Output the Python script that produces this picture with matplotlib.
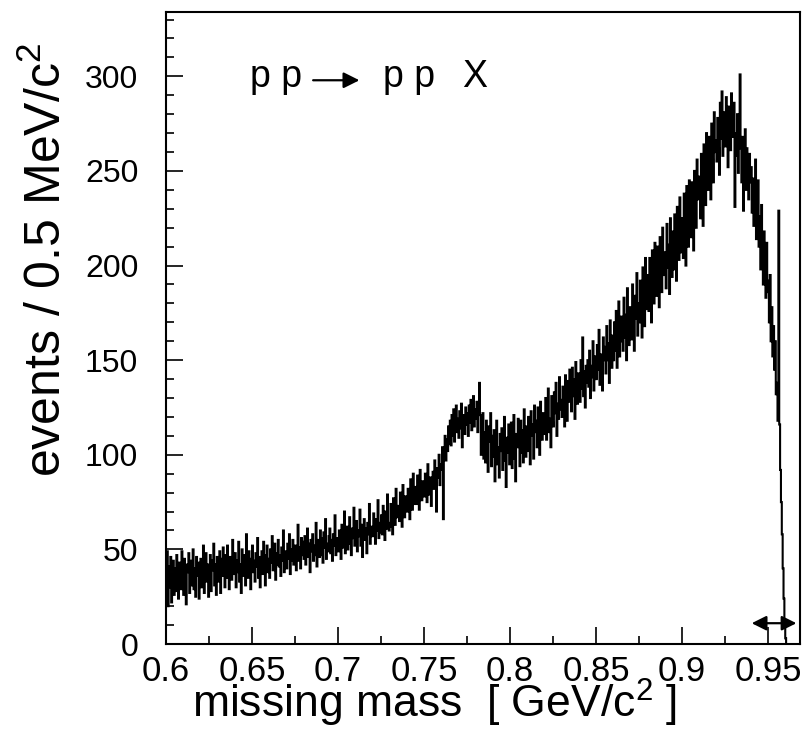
import numpy as np
import matplotlib
matplotlib.use("Agg")
import matplotlib.pyplot as plt
from matplotlib.ticker import MultipleLocator, FixedLocator

plt.rcParams['font.family'] = ['Liberation Sans', 'DejaVu Sans']
plt.rcParams['mathtext.default'] = 'regular'

# histogram: 0.5 MeV bins starting at 0.600 GeV
bin_start = 0.600
bin_width = 0.0005

counts_low = [  # 0.600 - 0.700
    24, 49, 20, 41, 30, 46, 22, 38, 44, 26,
    40, 28, 47, 33, 24, 43, 36, 29, 49, 31,
    26, 45, 34, 21, 42, 38, 48, 27, 35, 44,
    31, 50, 29, 40, 25, 46, 36, 43, 24, 39,
    45, 30, 41, 52, 27, 37, 48, 33, 42, 25,
    36, 47, 28, 44, 39, 53, 31, 42, 26, 46,
    41, 33, 49, 27, 45, 36, 51, 38, 30, 47,
    35, 52, 39, 29, 46, 41, 34, 55, 37, 43,
    48, 30, 44, 38, 54, 33, 42, 27, 50, 39,
    36, 47, 31, 58, 40, 35, 49, 43, 29, 45,
    52, 38, 44, 33, 48, 41, 56, 35, 46, 30,
    40, 49, 37, 54, 44, 31, 47, 52, 38, 45,
    35, 50, 43, 57, 39, 46, 53, 34, 48, 42,
    55, 41, 47, 36, 51, 44, 60, 38, 49, 43,
    40, 53, 45, 58, 37, 50, 44, 55, 42, 48,
    52, 39, 49, 63, 44, 51, 40, 56, 47, 54,
    45, 57, 42, 50, 61, 46, 53, 38, 55, 49,
    58, 44, 52, 47, 64, 41, 55, 50, 46, 60,
    47, 56, 43, 59, 51, 66, 45, 53, 49, 57,
    61, 48, 55, 44, 58, 52, 68, 47, 56, 50,
]
counts_rise = [  # 0.700 - 0.760
    49, 60, 54, 45, 63, 51, 57, 70, 48, 55,
    62, 50, 58, 67, 53, 47, 61, 56, 72, 52,
    54, 65, 49, 60, 57, 71, 52, 63, 46, 59,
    66, 55, 61, 48, 64, 58, 74, 53, 62, 57,
    57, 69, 62, 53, 66, 60, 76, 56, 64, 59,
    68, 58, 73, 63, 55, 70, 61, 79, 64, 60,
    62, 74, 66, 58, 77, 68, 63, 82, 67, 71,
    73, 65, 80, 70, 62, 84, 72, 67, 78, 74,
    70, 82, 75, 66, 87, 76, 71, 90, 74, 79,
    83, 74, 89, 79, 71, 92, 81, 76, 86, 80,
    78, 90, 84, 75, 95, 83, 79, 88, 73, 86,
    91, 82, 97, 85, 70, 93, 88, 100, 84, 95,
]
counts_omega = [  # 0.760 - 0.830
    92, 104, 66, 100, 110, 97, 108, 102, 115, 106,
    118, 105, 121, 110, 124, 107, 116, 126, 112, 119,
    109, 123, 114, 127, 104, 118, 121, 111, 125, 116,
    122, 110, 126, 117, 129, 113, 120, 131, 115, 124,
    119, 128, 112, 125, 138, 121, 100, 114, 122, 98,
    112, 96, 118, 104, 91, 115, 107, 122, 94, 110,
    99, 113, 86, 108, 118, 95, 104, 88, 111, 102,
    114, 92, 107, 120, 97, 83, 109, 101, 116, 95,
    100, 117, 93, 108, 121, 98, 86, 111, 104, 119,
    109, 94, 118, 101, 113, 96, 124, 105, 99, 115,
    102, 120, 107, 95, 123, 110, 116, 98, 126, 112,
    118, 104, 125, 113, 100, 128, 116, 108, 122, 111,
    121, 130, 108, 124, 135, 112, 119, 104, 131, 117,
    115, 133, 122, 138, 110, 127, 119, 141, 124, 129,
]
counts_peak = [  # 0.830 - 0.961
    120, 136, 126, 115, 142, 130, 118, 139, 128, 145,
    134, 123, 146, 131, 140, 119, 149, 133, 127, 143,
    139, 128, 150, 135, 162, 131, 144, 125, 147, 138,
    150, 136, 155, 130, 147, 141, 160, 134, 152, 144,
    140, 158, 145, 166, 137, 153, 148, 134, 162, 150,
    157, 143, 168, 150, 159, 138, 171, 154, 146, 163,
    150, 170, 155, 176, 146, 164, 181, 152, 160, 173,
    168, 155, 183, 162, 174, 150, 188, 166, 158, 178,
    177, 161, 190, 168, 155, 184, 172, 196, 163, 180,
    170, 192, 175, 162, 199, 181, 168, 204, 177, 186,
    195, 176, 204, 185, 170, 208, 189, 180, 212, 190,
    184, 210, 192, 178, 215, 197, 186, 220, 195, 203,
    207, 188, 222, 199, 211, 185, 225, 204, 194, 218,
    198, 227, 209, 192, 231, 212, 203, 236, 207, 222,
    225, 204, 238, 216, 200, 242, 221, 210, 245, 226,
    215, 244, 228, 208, 250, 231, 220, 256, 235, 241,
    247, 225, 259, 238, 221, 264, 243, 232, 270, 249,
    240, 268, 252, 235, 275, 256, 244, 281, 260, 266,
    255, 278, 262, 248, 286, 267, 292, 258, 281, 270,
    263, 289, 271, 252, 284, 276, 261, 291, 268, 279,
    286, 231, 270, 258, 280, 249, 274, 301, 262, 244,
    268, 229, 257, 272, 240, 262, 248, 235, 259, 244,
    252, 228, 246, 221, 238, 256, 214, 233, 245, 210,
    226, 198, 232, 205, 190, 218, 200, 183, 212, 192,
    186, 170, 195, 160, 178, 152, 168, 145, 160, 132,
    138, 118, 229, 116, 92, 75, 58, 40, 24, 10,
    3, 0,
]

xticks = [0.6, 0.65, 0.7, 0.75, 0.8, 0.85, 0.9, 0.95]
xticklabels = ['0.6', '0.65', '0.7', '0.75', '0.8', '0.85', '0.9', '0.95']
yticks = [0, 50, 100, 150, 200, 250, 300]

counts = np.array(counts_low + counts_rise + counts_omega + counts_peak, dtype=float)
edges = bin_start + bin_width * np.arange(len(counts) + 1)

fig = plt.figure(figsize=(8.06, 7.5), dpi=100)
ax = fig.add_axes([0.206, 0.1413, 0.7866, 0.8427])

ax.stairs(counts, edges, baseline=None, color='black', lw=1.5)

ax.set_xlim(0.6, 0.9686)
ax.set_ylim(0, 334)

ax.xaxis.set_major_locator(FixedLocator(xticks))
ax.set_xticklabels(xticklabels)
ax.xaxis.set_minor_locator(MultipleLocator(0.025))
ax.yaxis.set_major_locator(FixedLocator(yticks))
ax.yaxis.set_minor_locator(MultipleLocator(10))

ax.tick_params(axis='both', which='both', direction='in', width=1.2,
               top=False, right=False)
ax.tick_params(axis='both', which='major', length=12)
ax.tick_params(axis='both', which='minor', length=6)
ax.tick_params(axis='x', labelsize=25, pad=8)
ax.tick_params(axis='y', labelsize=23, pad=20)
for s in ax.spines.values():
    s.set_linewidth(1.5)

# axis titles placed like the ROOT original (not centred on the axes)
fig.text(435 / 806, 1 - 718 / 750, 'missing mass  [ GeV/c$^2$ ]',
         fontsize=32, ha='center', va='baseline')
fig.text(47 / 806, 1 - 260 / 750, 'events / 0.5 MeV/c$^2$',
         fontsize=36, rotation=90, ha='center', va='center')

# reaction label
ax.text(0.1325, 0.881, 'p p', transform=ax.transAxes, fontsize=27,
        ha='left', va='baseline')
ax.annotate('', xy=(0.305, 0.892), xytext=(0.232, 0.892),
            xycoords='axes fraction', textcoords='axes fraction',
            arrowprops=dict(arrowstyle='-|>', color='black', lw=1.6,
                            mutation_scale=24, shrinkA=0, shrinkB=0))
ax.text(0.342, 0.881, 'p p', transform=ax.transAxes, fontsize=27,
        ha='left', va='baseline')
ax.text(0.467, 0.881, 'X', transform=ax.transAxes, fontsize=27,
        ha='left', va='baseline')

# kinematic-limit arrow
ax.annotate('', xy=(0.9405, 11), xytext=(0.9665, 11),
            arrowprops=dict(arrowstyle='<|-|>', color='black', lw=1.6,
                            mutation_scale=22, shrinkA=0, shrinkB=0))

fig.savefig('out.png', dpi=100)
